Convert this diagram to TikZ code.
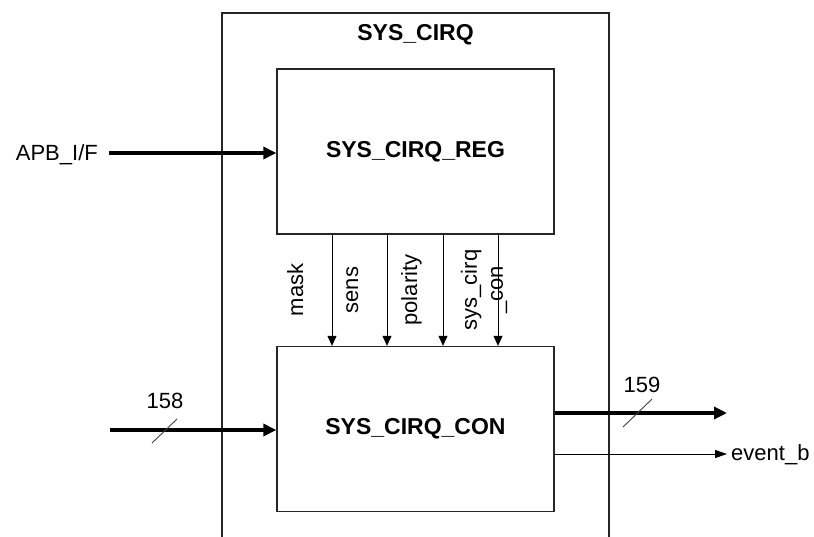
\documentclass[tikz,border=0pt]{standalone}
\usepackage{fontspec}
\setmainfont{Liberation Sans}
\usetikzlibrary{arrows.meta}
\begin{document}
\begin{tikzpicture}[x=1pt,y=-1pt,
  frame/.style={draw=black!85,line width=1.3pt},
  block/.style={frame,minimum width=277pt,minimum height=165pt,inner sep=0pt,
    font=\fontsize{23}{27}\selectfont\bfseries},
  lbl/.style={font=\fontsize{22}{26}\selectfont,inner sep=0pt},
  bus/.style={line width=3.5pt,-{Triangle[length=13pt,width=12pt]}},
  sig/.style={line width=1pt,-{Triangle[length=10pt,width=9pt]}},
  outsig/.style={line width=1pt,-{Triangle[length=12pt,width=8pt]}},
  tick/.style={line width=0.9pt,black!75}]
\clip (0,0) rectangle (814,536);

% enclosing SYS_CIRQ block (continues below the page edge)
\draw[frame] (222,560) |- (609,13) -- (609,560);
\node[font=\fontsize{23}{27}\selectfont\bfseries,inner sep=0pt,anchor=base] (title) at (415.5,40) {SYS\_CIRQ};

% sub-blocks
\node[block] (reg) at (415.5,151.5) {SYS\_CIRQ\_REG};
\node[block] (con) at (415.5,429) {SYS\_CIRQ\_CON};

% register interface input
\node[lbl,anchor=base east] (apb) at (98,160) {APB\_I/F};
\coordinate (apbin) at (109,153);
\draw[bus] (apbin) -- (apbin -| reg.west);

% 158-bit interrupt input
\coordinate (in158) at (110,430);
\draw[bus] (in158) -- (in158 -| con.west);
\draw[tick] (152,443) -- (177,419);
\node[lbl] (w158) at (165,401) {158};

% control signals from REG to CON
\foreach \x/\nm in {332/a,387/b,443/c,498/d}{
  \coordinate (top\nm) at (\x,0);
  \draw[sig] (reg.south -| top\nm) -- (con.north -| top\nm);
}
\node[lbl,rotate=90,anchor=base] (mask) at (303,290) {mask};
\node[lbl,rotate=90,anchor=base] (sens) at (358,290) {sens};
\node[lbl,rotate=90,anchor=base] (pol) at (417,290) {polarity};
\node[lbl,rotate=90,align=center] (syscon) at (484,290) {sys\_cirq\\\_con};

% outputs
\coordinate (out159) at (727,413);
\draw[bus] (out159 -| con.east) -- (out159);
\draw[tick] (623,427) -- (652,399);
\node[lbl] (w159) at (642,385) {159};

\coordinate (outev) at (727,454);
\draw[outsig] (outev -| con.east) -- (outev);
\node[lbl,anchor=base west] (evb) at (731,460) {event\_b};
\end{tikzpicture}
\end{document}
